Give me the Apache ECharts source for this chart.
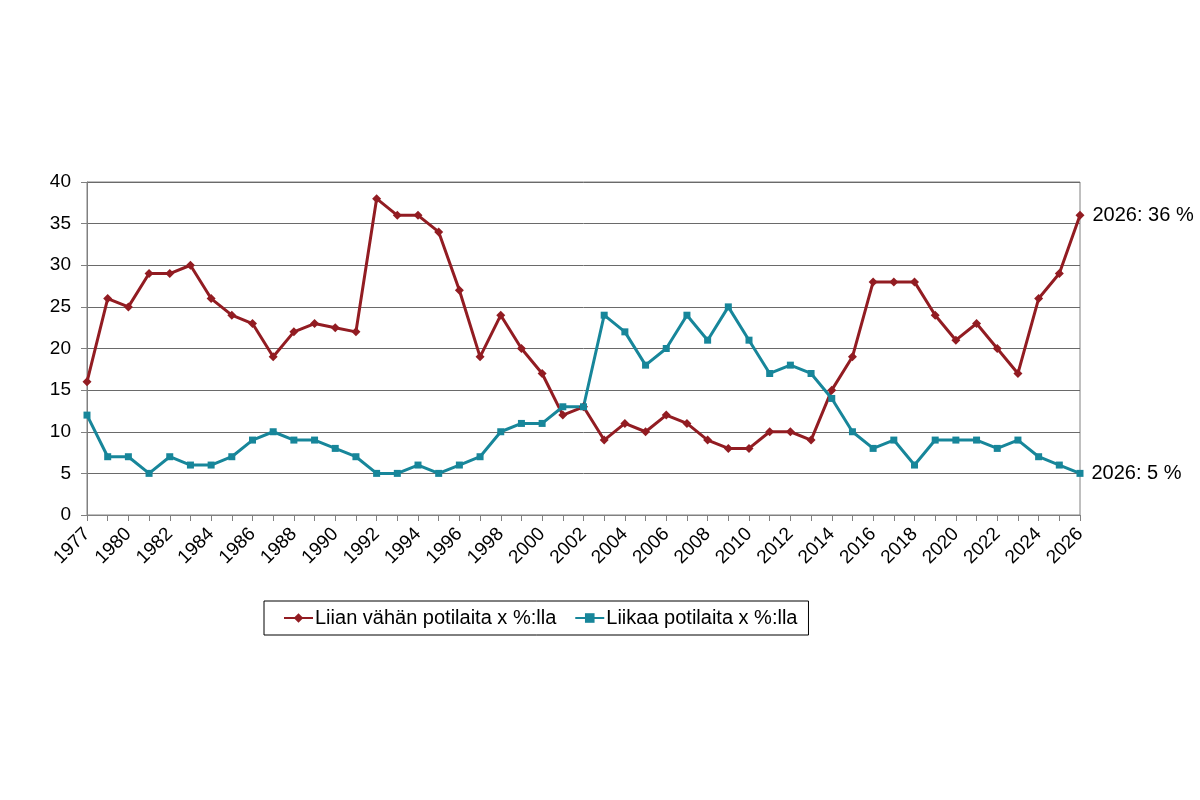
<!DOCTYPE html>
<html><head><meta charset="utf-8">
<script src="https://cdn.jsdelivr.net/npm/echarts@6/dist/echarts.min.js"></script>
<style>html,body{margin:0;padding:0;background:#fff}#c{width:1200px;height:800px}</style>
</head><body><div id="c"></div>
<script>
const years = ['1977','1979','1980','1981','1982','1983','1984','1985','1986','1987','1988','1989','1990','1991','1992','1993','1994','1995','1996','1997','1998','1999','2000','2001','2002','2003','2004','2005','2006','2007','2008','2009','2010','2011','2012','2013','2014','2015','2016','2017','2018','2019','2020','2021','2022','2023','2024','2025','2026'];
const liianVahan = [16,26,25,29,29,30,26,24,23,19,22,23,22.5,22,38,36,36,34,27,19,24,20,17,12,13,9,11,10,12,11,9,8,8,10,10,9,15,19,28,28,28,24,21,23,20,17,26,29,36];
const liikaa = [12,7,7,5,7,6,6,7,9,10,9,9,8,7,5,5,6,5,6,7,10,11,11,13,13,24,22,18,20,24,21,25,21,17,18,17,14,10,8,9,6,9,9,9,8,9,7,6,5];
const yTicks = [0,5,10,15,20,25,30,35,40];
const seriesNames = ['Liian vähän potilaita x %:lla','Liikaa potilaita x %:lla'];

const font = 'Liberation Sans, Arial, sans-serif';
function endLabel(data){
  return data.map((v,i)=> i===data.length-1 ? {value:v,label:{show:true,position:'right',distance:8,formatter:years[i]+': '+v+' %',color:'#000',fontSize:20,fontFamily:font}} : v);
}
const chart = echarts.init(document.getElementById('c'));
chart.setOption({
  animation:false,
  backgroundColor:'#fff',
  grid:{left:87,right:120,top:182,bottom:285,containLabel:false,show:true,borderColor:'#808080',borderWidth:1},
  legend:{
    top:601, left:264,
    padding:[7,11,7,19],
    borderColor:'#000',borderWidth:1,
    itemWidth:29,itemHeight:12,itemGap:18,
    textStyle:{fontSize:20,fontFamily:font,color:'#000',padding:[0,0,0,-3]},
    data:seriesNames
  },
  xAxis:{
    type:'category',data:years,boundaryGap:false,
    axisLine:{lineStyle:{color:'#808080'}},
    axisTick:{show:true,interval:0,length:6,lineStyle:{color:'#808080'}},
    axisLabel:{interval:1,rotate:45,fontSize:19,fontFamily:font,color:'#000',margin:16},
    splitLine:{show:false}
  },
  yAxis:{
    type:'value',min:0,max:40,interval:5,
    axisLine:{show:true,lineStyle:{color:'#808080'}},
    axisTick:{show:true,length:6,lineStyle:{color:'#808080'}},
    axisLabel:{fontSize:19,fontFamily:font,color:'#000',margin:16,formatter:v=>yTicks.includes(v)?String(v):''},
    splitLine:{show:true,lineStyle:{color:'#6a6a6a',width:1}}
  },
  series:[
    {name:seriesNames[0],type:'line',data:endLabel(liianVahan),color:'#921c22',
     lineStyle:{width:3},symbol:'diamond',symbolSize:9,itemStyle:{color:'#921c22'}},
    {name:seriesNames[1],type:'line',data:endLabel(liikaa),color:'#17869a',
     lineStyle:{width:3},symbol:'rect',symbolSize:7,itemStyle:{color:'#17869a'}}
  ]
});
</script></body></html>
